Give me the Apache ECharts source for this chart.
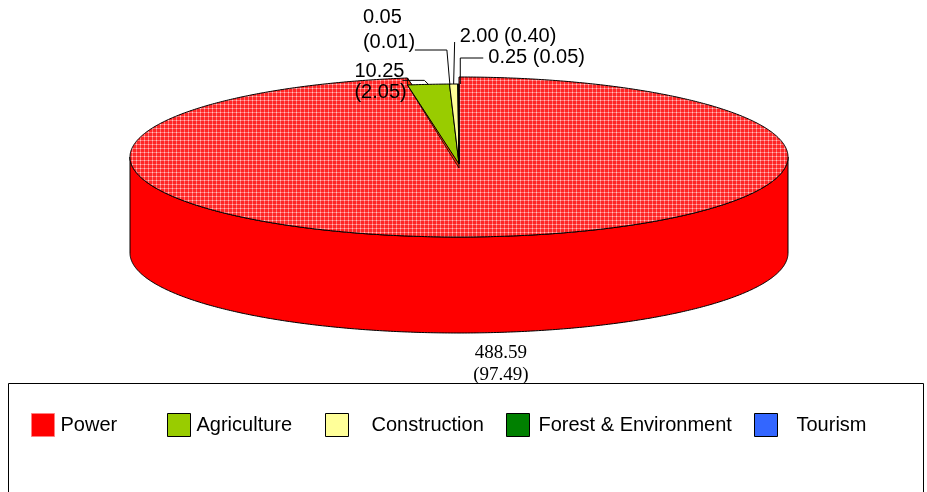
<!DOCTYPE html>
<html>
<head>
<meta charset="utf-8">
<script src="https://cdn.jsdelivr.net/npm/echarts@6/dist/echarts.min.js"></script>
<style>
html, body { margin: 0; padding: 0; background: #fff; }
#chart { width: 927px; height: 492px; }
</style>
</head>
<body>
<div id="chart"></div>
<script>
// data
var categories = ['Power', 'Agriculture', 'Construction', 'Forest & Environment', 'Tourism'];
var values = [488.59, 10.25, 2.00, 0.25, 0.05];
var shares = [97.49, 2.05, 0.40, 0.05, 0.01];
var colors = ['#ff0000', '#99cc00', '#ffff99', '#008000', '#3366ff'];

// pie geometry (3d look: squashed ellipse + side wall)
var pie = { cx: 459, cy: 157, rx: 329, ry: 80, depth: 96, drop: 7 };

// label layout relative to each slice's rim point, leader line as offsets
var sans = '20px "Liberation Sans", Arial, sans-serif';
var labelLayout = [
  { dx: 16, dy: 31, align: 'center', font: '19px "Liberation Serif", "Times New Roman", serif', lh: 22, split: true, line: null },
  { dx: -74, dy: -2, align: 'left', font: sans, lh: 21, split: true, line: [[0, 0], [-4, -4], [-26, -4]] },
  { dx: 6, dy: -48, align: 'left', font: sans, lh: 21, split: false, line: [[0, 0], [1, -42]] },
  { dx: 30, dy: -27, align: 'left', font: sans, lh: 21, split: false, line: [[2, 0], [2, -26], [25, -26]] },
  { dx: -96, dy: -54, align: 'left', font: sans, lh: 25, split: true, line: [[-9, 1], [-12, -34], [-44, -34]] }
];

// legend layout
var legendLayout = [
  { left: 31, pad: 1, border: '#ff8080', dy: 0 },
  { left: 167, pad: 1, border: '#000', dy: 0 },
  { left: 325, pad: 18, border: '#000', dy: 0 },
  { left: 506, pad: 4, border: '#000', dy: 0 },
  { left: 754, pad: 14, border: '#000', dy: 2 }
];

var total = values.reduce(function (a, b) { return a + b; }, 0);
var starts = [], ends = [];
var acc = 0;
values.forEach(function (v) {
  starts.push(acc / total * 360);
  acc += v;
  ends.push(acc / total * 360);
});

// texture of the top face
var tex = document.createElement('canvas');
tex.width = 4; tex.height = 4;
var g = tex.getContext('2d');
g.fillStyle = '#ff2626'; g.fillRect(0, 0, 4, 4);
g.fillStyle = '#ff7474'; g.fillRect(0, 0, 4, 1); g.fillRect(0, 0, 1, 4);
g.fillStyle = '#ffc4c4'; g.fillRect(0, 0, 1, 1);

function rimPoint(deg, dy) {
  var r = deg * Math.PI / 180;
  return [pie.cx + pie.rx * Math.sin(r), pie.cy - pie.ry * Math.cos(r) + dy];
}
function arc(a0, a1, dy) {
  var pts = [];
  var n = Math.max(2, Math.ceil(Math.abs(a1 - a0) / 0.5));
  for (var k = 0; k <= n; k++) pts.push(rimPoint(a0 + (a1 - a0) * k / n, dy));
  return pts;
}

function makeRender(i) {
  return function (params, api) {
    var drop = i === 0 ? 0 : pie.drop;
    var a0 = starts[i], a1 = ends[i];
    var children = [];

    // side wall, only the front half shows
    var s0 = Math.max(a0, 90), s1 = Math.min(a1, 270);
    if (s1 > s0) {
      var pts = arc(s0, s1, drop).concat(arc(s1, s0, drop + pie.depth));
      children.push({
        type: 'polygon', shape: { points: pts },
        style: { fill: colors[i], stroke: '#000', lineWidth: 1 }
      });
    }

    // top face
    var top = [[pie.cx, pie.cy + drop]].concat(arc(a0, a1, drop));
    children.push({
      type: 'polygon', shape: { points: top },
      style: { fill: i === 0 ? { image: tex, repeat: 'repeat' } : colors[i], stroke: '#000', lineWidth: 1 }
    });

    // cut face of the big slice, seen through the gap
    if (i === 0) {
      var e0 = rimPoint(a1, 0), e1 = rimPoint(a1, pie.drop);
      children.push({
        type: 'polygon',
        shape: { points: [[pie.cx, pie.cy], e0, e1, [pie.cx, pie.cy + pie.drop + 4]] },
        style: { fill: '#f03c0c', stroke: '#000', lineWidth: 0.8 }
      });
    }

    // label
    var lay = labelLayout[i];
    var mid = (a0 + a1) / 2;
    var anchor = i === 0 ? rimPoint(mid, pie.depth) : rimPoint(mid, drop);
    var txt = values[i].toFixed(2) + (lay.split ? '\n' : ' ') + '(' + shares[i].toFixed(2) + ')';
    if (lay.line) {
      children.push({
        type: 'polyline',
        shape: { points: lay.line.map(function (p) { return [anchor[0] + p[0], anchor[1] + p[1]]; }) },
        style: { stroke: '#000', lineWidth: 1, fill: null }
      });
    }
    children.push({
      type: 'text',
      x: anchor[0] + lay.dx,
      y: anchor[1] + lay.dy,
      style: {
        text: txt, fill: '#000', font: lay.font,
        align: lay.align, verticalAlign: 'middle', lineHeight: lay.lh
      }
    });

    return { type: 'group', children: children };
  };
}

var chart = echarts.init(document.getElementById('chart'));

var series = categories.map(function (name, i) {
  return {
    type: 'custom',
    name: name,
    coordinateSystem: 'none',
    silent: true,
    itemStyle: { color: colors[i] },
    data: [{ name: name, value: values[i] }],
    renderItem: makeRender(i)
  };
});

var legends = categories.map(function (name, i) {
  var L = legendLayout[i];
  return {
    left: L.left,
    top: 413,
    padding: 0,
    icon: 'rect',
    itemWidth: 23,
    itemHeight: 23,
    selectedMode: false,
    data: [{ name: name, itemStyle: { borderColor: L.border, borderWidth: 1 } }],
    textStyle: {
      color: '#000', fontSize: 20,
      fontFamily: '"Liberation Sans", Arial, sans-serif',
      padding: [L.dy, 0, 0, L.pad]
    }
  };
});

chart.setOption({
  animation: false,
  backgroundColor: '#fff',
  legend: legends,
  graphic: [{
    type: 'rect',
    shape: { x: 8.5, y: 383.5, width: 915, height: 130 },
    style: { fill: null, stroke: '#000', lineWidth: 1 },
    silent: true
  }],
  series: series
});
</script>
</body>
</html>
